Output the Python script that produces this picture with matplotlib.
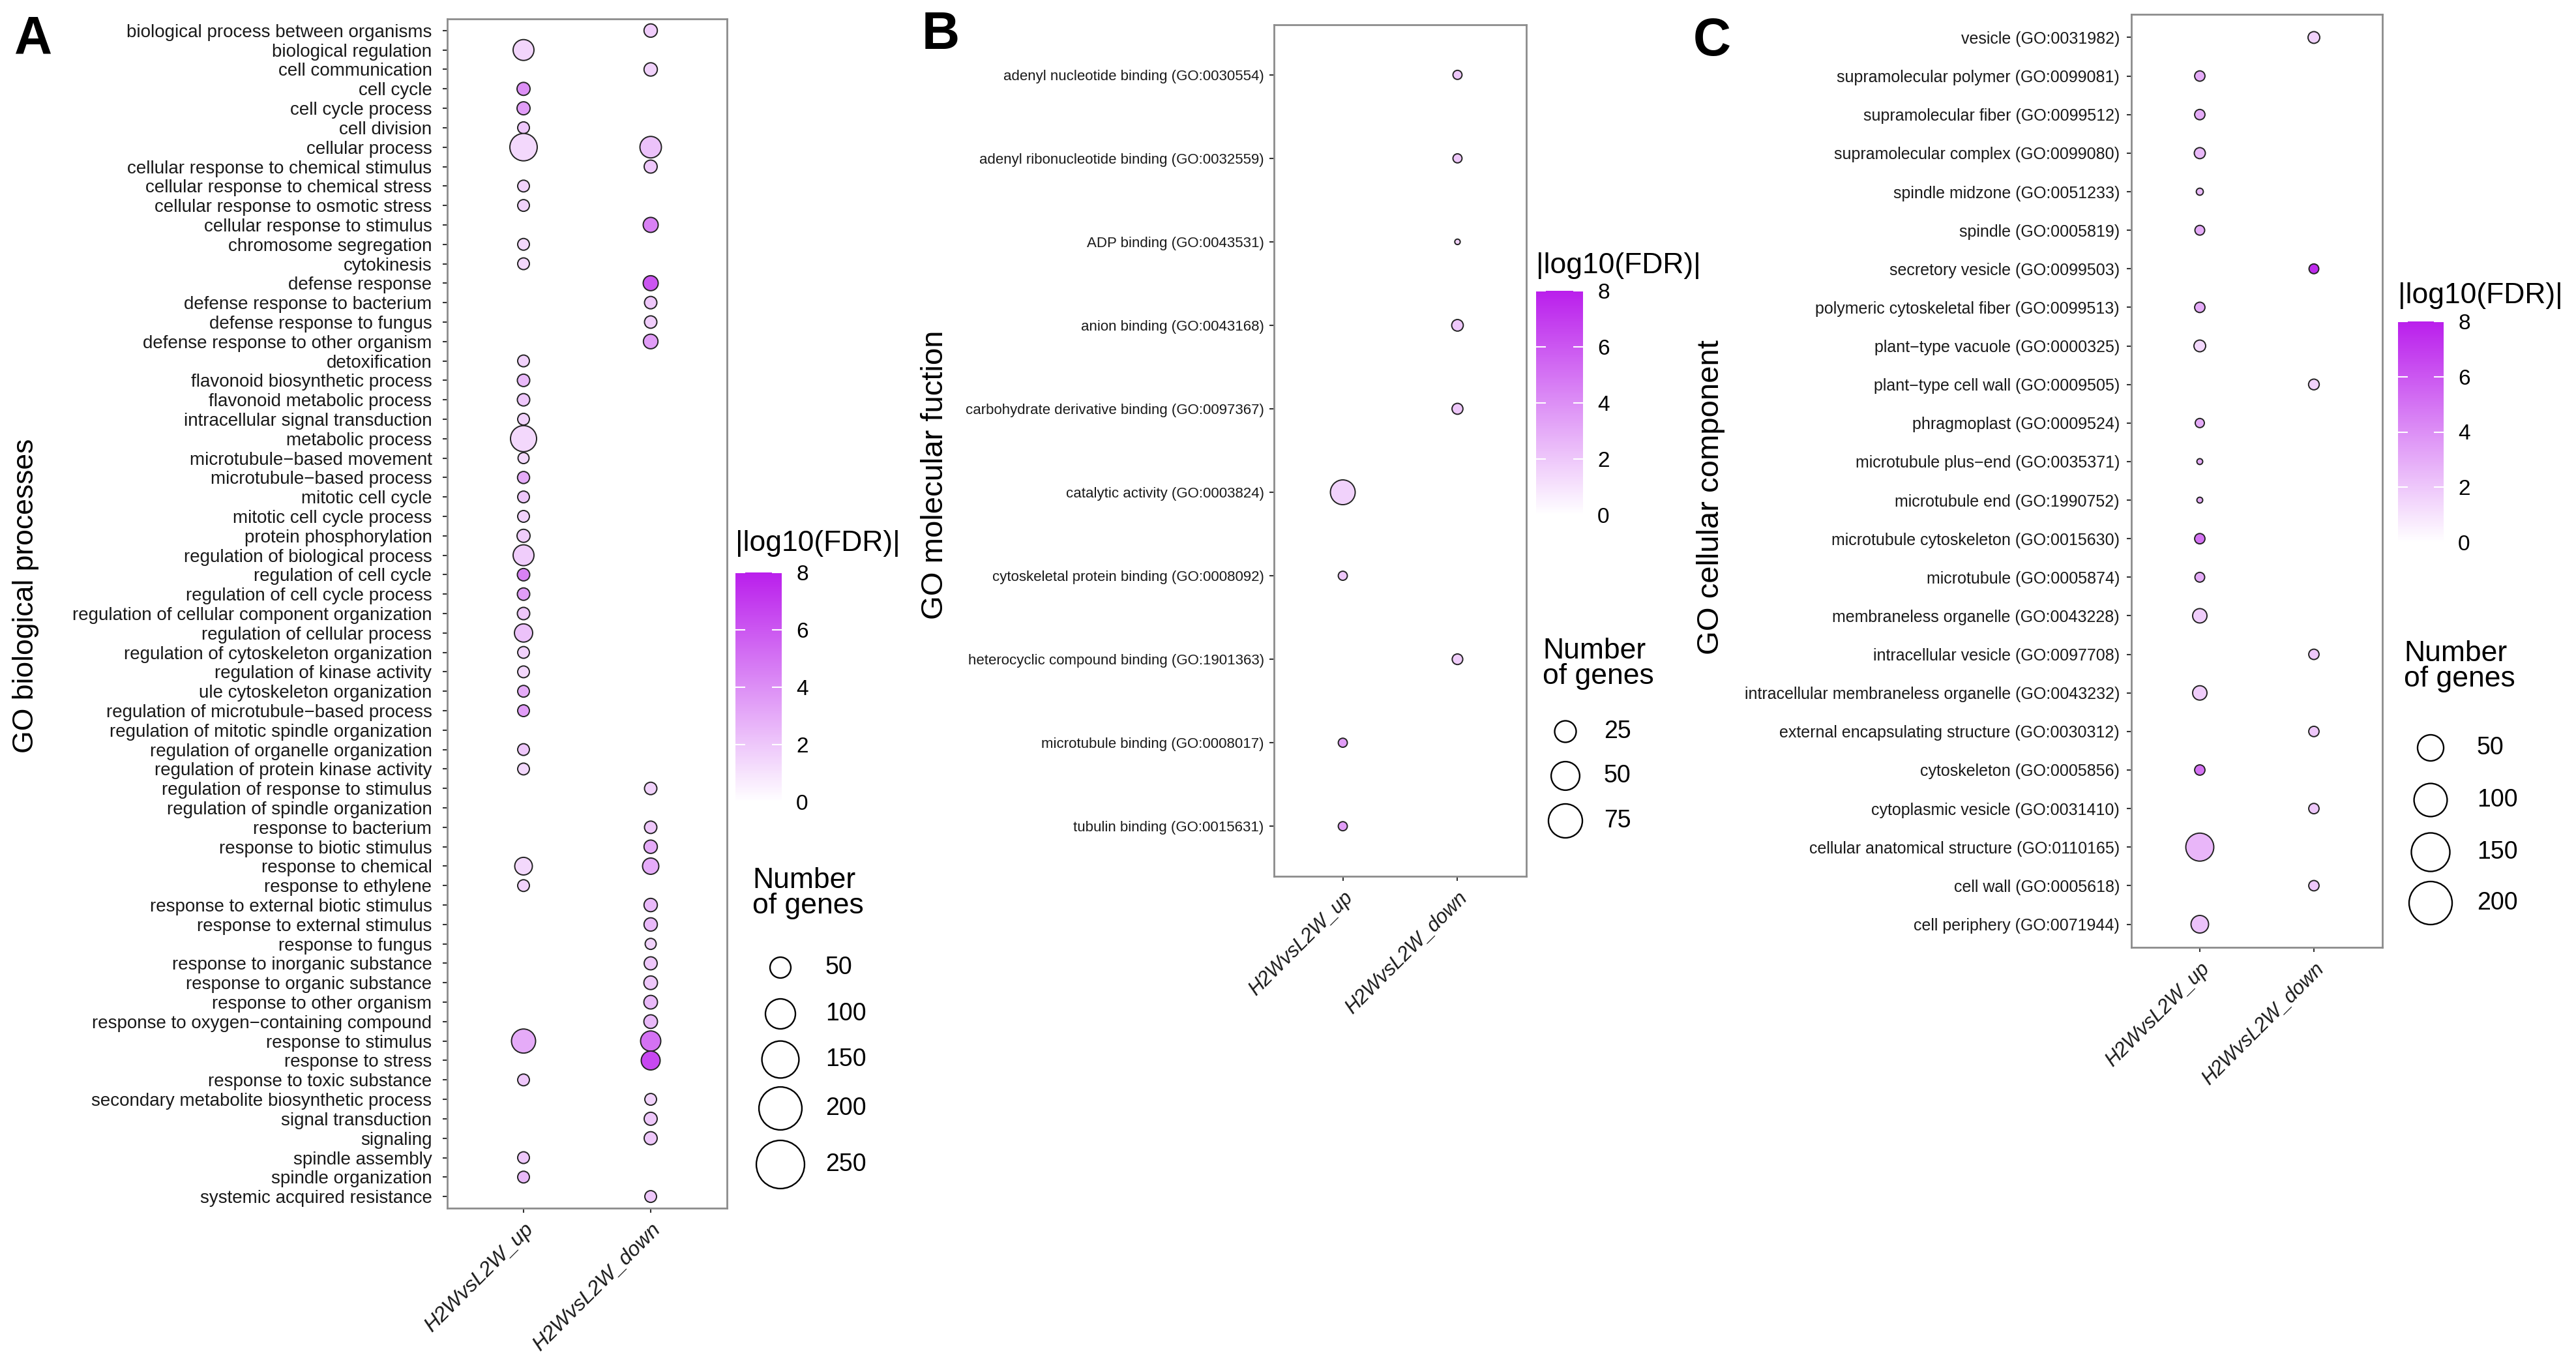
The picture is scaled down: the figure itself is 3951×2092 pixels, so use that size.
import numpy as np
import matplotlib
matplotlib.use('Agg')
import matplotlib.pyplot as plt
from matplotlib.colors import LinearSegmentedColormap, Normalize
from matplotlib.cm import ScalarMappable

plt.rcParams['font.family'] = ['Liberation Sans', 'DejaVu Sans']

nan = np.nan
W, H = 3951, 2092
groups = ['H2WvsL2W_up', 'H2WvsL2W_down']

# ---------------- A: GO biological processes ----------------
bp_terms = ['biological process between organisms', 'biological regulation', 'cell communication',
            'cell cycle', 'cell cycle process', 'cell division', 'cellular process',
            'cellular response to chemical stimulus', 'cellular response to chemical stress',
            'cellular response to osmotic stress', 'cellular response to stimulus',
            'chromosome segregation', 'cytokinesis', 'defense response',
            'defense response to bacterium', 'defense response to fungus',
            'defense response to other organism', 'detoxification',
            'flavonoid biosynthetic process', 'flavonoid metabolic process',
            'intracellular signal transduction', 'metabolic process',
            'microtubule\u2212based movement', 'microtubule\u2212based process', 'mitotic cell cycle',
            'mitotic cell cycle process', 'protein phosphorylation',
            'regulation of biological process', 'regulation of cell cycle',
            'regulation of cell cycle process', 'regulation of cellular component organization',
            'regulation of cellular process', 'regulation of cytoskeleton organization',
            'regulation of kinase activity', 'ule cytoskeleton organization',
            'regulation of microtubule\u2212based process', 'regulation of mitotic spindle organization',
            'regulation of organelle organization', 'regulation of protein kinase activity',
            'regulation of response to stimulus', 'regulation of spindle organization',
            'response to bacterium', 'response to biotic stimulus', 'response to chemical',
            'response to ethylene', 'response to external biotic stimulus',
            'response to external stimulus', 'response to fungus',
            'response to inorganic substance', 'response to organic substance',
            'response to other organism', 'response to oxygen\u2212containing compound',
            'response to stimulus', 'response to stress', 'response to toxic substance',
            'secondary metabolite biosynthetic process', 'signal transduction', 'signaling',
            'spindle assembly', 'spindle organization', 'systemic acquired resistance']

bp_up_genes = [nan, 164, nan, 64, 64, 52, 282, nan, 52, 52,
               nan, 52, 52, nan, nan, nan, nan, 52, 58, 58,
               52, 256, 46, 55, 52, 52, 64, 164, 58, 58,
               58, 125, 52, 52, 52, 52, nan, 52, 52, nan,
               nan, nan, nan, 117, 52, nan, nan, nan, nan, nan,
               nan, nan, 219, nan, 52, nan, nan, nan, 52, 52,
               nan]
bp_up_fdr = [nan, 1.5, nan, 4.0, 3.5, 2.0, 1.4, nan, 1.6, 1.6,
             nan, 1.4, 1.4, nan, nan, nan, nan, 1.6, 2.5, 2.0,
             1.6, 1.4, 1.4, 3.0, 2.0, 1.6, 1.8, 1.8, 4.5, 3.5,
             2.0, 2.2, 1.6, 1.4, 3.0, 3.5, nan, 2.0, 1.4, nan,
             nan, nan, nan, 1.4, 1.6, nan, nan, nan, nan, nan,
             nan, nan, 3.0, nan, 2.0, nan, nan, nan, 2.0, 2.5,
             nan]
bp_down_genes = [67, nan, 67, nan, nan, nan, 174, 64, nan, nan,
                 85, nan, nan, 85, 58, 58, 80, nan, nan, nan,
                 nan, nan, nan, nan, nan, nan, nan, nan, nan, nan,
                 nan, nan, nan, nan, nan, nan, nan, nan, nan, 58,
                 nan, 58, 67, 100, nan, 67, 67, 46, 64, 70,
                 70, 70, 154, 135, nan, 52, 64, 64, nan, nan,
                 52]
bp_down_fdr = [1.8, nan, 1.6, nan, nan, nan, 2.2, 2.0, nan, nan,
               4.5, nan, nan, 6.0, 2.0, 1.8, 3.5, nan, nan, nan,
               nan, nan, nan, nan, nan, nan, nan, nan, nan, nan,
               nan, nan, nan, nan, nan, nan, nan, nan, nan, 1.6,
               nan, 2.0, 3.0, 3.0, nan, 2.5, 2.5, 1.6, 2.0, 2.0,
               2.5, 2.5, 5.0, 6.5, nan, 1.6, 2.0, 2.0, nan, nan,
               2.0]

# ---------------- B: GO molecular function ----------------
mf_terms = ['adenyl nucleotide binding (GO:0030554)', 'adenyl ribonucleotide binding (GO:0032559)',
            'ADP binding (GO:0043531)', 'anion binding (GO:0043168)',
            'carbohydrate derivative binding (GO:0097367)', 'catalytic activity (GO:0003824)',
            'cytoskeletal protein binding (GO:0008092)', 'heterocyclic compound binding (GO:1901363)',
            'microtubule binding (GO:0008017)', 'tubulin binding (GO:0015631)']
mf_up_genes = [nan, nan, nan, nan, nan, 82, 11, nan, 11, 11]
mf_up_fdr = [nan, nan, nan, nan, nan, 1.6, 2.0, nan, 3.5, 3.5]
mf_down_genes = [11, 11, 4, 18, 16, nan, nan, 15, nan, nan]
mf_down_fdr = [2.0, 2.0, 1.6, 2.0, 2.0, nan, nan, 1.8, nan, nan]

# ---------------- C: GO cellular component ----------------
cc_terms = ['vesicle (GO:0031982)', 'supramolecular polymer (GO:0099081)',
            'supramolecular fiber (GO:0099512)', 'supramolecular complex (GO:0099080)',
            'spindle midzone (GO:0051233)', 'spindle (GO:0005819)',
            'secretory vesicle (GO:0099503)', 'polymeric cytoskeletal fiber (GO:0099513)',
            'plant\u2212type vacuole (GO:0000325)', 'plant\u2212type cell wall (GO:0009505)',
            'phragmoplast (GO:0009524)', 'microtubule plus\u2212end (GO:0035371)',
            'microtubule end (GO:1990752)', 'microtubule cytoskeleton (GO:0015630)',
            'microtubule (GO:0005874)', 'membraneless organelle (GO:0043228)',
            'intracellular vesicle (GO:0097708)', 'intracellular membraneless organelle (GO:0043232)',
            'external encapsulating structure (GO:0030312)', 'cytoskeleton (GO:0005856)',
            'cytoplasmic vesicle (GO:0031410)', 'cellular anatomical structure (GO:0110165)',
            'cell wall (GO:0005618)', 'cell periphery (GO:0071944)']
cc_up_genes = [nan, 28, 28, 32, 13, 25, nan, 28, 36, nan, 22, 9,
               9, 28, 25, 54, nan, 54, nan, 28, nan, 205, nan, 81]
cc_up_fdr = [nan, 3.0, 3.0, 2.5, 2.5, 3.0, nan, 3.0, 1.4, nan, 3.0, 3.0,
             3.0, 5.0, 3.0, 1.8, nan, 1.8, nan, 5.0, nan, 2.6, nan, 2.2]
cc_down_genes = [36, nan, nan, nan, nan, nan, 25, nan, nan, 30, nan, nan,
                 nan, nan, nan, nan, 28, nan, 28, nan, 28, nan, 28, nan]
cc_down_fdr = [1.6, nan, nan, nan, nan, nan, 7.5, nan, nan, 1.6, nan, nan,
               nan, nan, nan, nan, 2.0, nan, 2.0, nan, 2.0, nan, 2.0, nan]

fdr_ticks = [0, 2, 4, 6, 8]
bp_size_breaks = [50, 100, 150, 200, 250]
mf_size_breaks = [25, 50, 75]
cc_size_breaks = [50, 100, 150, 200]

cmap = LinearSegmentedColormap.from_list('fdr', ['#FFFFFF', '#BA1FEC'])
norm = Normalize(0, 8)

fig = plt.figure(figsize=(W / 100, H / 100), dpi=100)

ov = fig.add_axes([0, 0, 1, 1])
ov.set_xlim(0, W)
ov.set_ylim(H, 0)
ov.axis('off')


def px_rect(left, top, right, bottom):
    return [left / W, 1 - bottom / H, (right - left) / W, (bottom - top) / H]


def panel(rect, terms, up_n, up_f, dn_n, dn_f, c_size, ylab_size, xlab_size, ypad):
    ax = fig.add_axes(px_rect(*rect))
    y = np.arange(len(terms))
    for xi, (n, f) in enumerate([(up_n, up_f), (dn_n, dn_f)]):
        n = np.asarray(n, float)
        f = np.asarray(f, float)
        ok = ~np.isnan(n)
        d = c_size * np.sqrt(n[ok]) * 0.72
        ax.scatter(np.full(ok.sum(), xi), y[ok], s=d ** 2, c=f[ok], cmap=cmap, norm=norm,
                   edgecolors='#222222', linewidths=1.4, zorder=3)
    ax.set_xlim(-0.6, 1.6)
    ax.set_ylim(len(terms) - 0.4, -0.6)
    ax.set_yticks(y)
    ax.set_yticklabels(terms, fontsize=ylab_size, color='#1a1a1a')
    ax.set_xticks([0, 1])
    ax.set_xticklabels(groups, rotation=45, ha='right', va='top', rotation_mode='anchor',
                       fontsize=xlab_size, fontstyle='italic', color='#1a1a1a')
    ax.tick_params(axis='y', length=5, width=1.5, color='#333333', pad=ypad)
    ax.tick_params(axis='x', length=5, width=1.5, color='#333333', pad=8)
    for s in ax.spines.values():
        s.set_color('#8c8c8c')
        s.set_linewidth(2.0)
    return ax


def colorbar(rect, title_xy):
    cax = fig.add_axes(px_rect(*rect))
    cb = fig.colorbar(ScalarMappable(norm=norm, cmap=cmap), cax=cax, ticks=fdr_ticks)
    cb.outline.set_visible(False)
    cax.tick_params(direction='in', color='white', length=11, width=1.5, left=True, right=True,
                    labelsize=24, pad=16)
    ov.text(title_xy[0], title_xy[1], '|log10(FDR)|', fontsize=32, ha='left', va='center')


def size_legend(x, ys, breaks, a, b, title_xy, label_x):
    d = (a + b * np.sqrt(np.asarray(breaks, float))) * 0.72
    ov.scatter(np.full(len(breaks), x), ys, s=d ** 2, facecolors='white', edgecolors='black',
               linewidths=1.7)
    for yy, br in zip(ys, breaks):
        ov.text(label_x, yy, str(br), fontsize=27, ha='left', va='center')
    ov.text(title_xy[0], title_xy[1], 'Number\nof genes', fontsize=32, ha='left', va='top',
            linespacing=0.95)


# panel A
panel((686, 29, 1115, 1853), bp_terms, bp_up_genes, bp_up_fdr, bp_down_genes, bp_down_fdr,
      2.5, 20, 23, 12)
colorbar((1128, 878, 1199, 1230), (1128, 834))
size_legend(1197, [1484, 1555, 1625, 1700, 1786], bp_size_breaks, -2, 4.8, (1154, 1330), 1266)
ov.text(40, 914, 'GO biological processes', fontsize=32, rotation=90, ha='center', va='center')
ov.text(22, 22, 'A', fontsize=58, fontweight='bold', ha='left', va='top')

# panel B
panel((1954, 38, 2341, 1344), mf_terms, mf_up_genes, mf_up_fdr, mf_down_genes, mf_down_fdr,
      4.2, 16, 22, 6)
colorbar((2356, 446, 2428, 790), (2356, 408))
size_legend(2401, [1122, 1190, 1259], mf_size_breaks, 7, 5.2, (2366, 978), 2460)
ov.text(1434, 728, 'GO molecular fuction', fontsize=34, rotation=90, ha='center', va='center')
ov.text(1414, 16, 'B', fontsize=58, fontweight='bold', ha='left', va='top')

# panel C
panel((3269, 22, 3654, 1453), cc_terms, cc_up_genes, cc_up_fdr, cc_down_genes, cc_down_fdr,
      3.0, 18, 22, 8)
colorbar((3678, 493, 3748, 832), (3678, 453))
size_legend(3728, [1147, 1227, 1307, 1385], cc_size_breaks, 14, 3.68, (3687, 982), 3799)
ov.text(2624, 763, 'GO cellular component', fontsize=34, rotation=90, ha='center', va='center')
ov.text(2597, 26, 'C', fontsize=58, fontweight='bold', ha='left', va='top')

fig.savefig('out.png', dpi=100)
